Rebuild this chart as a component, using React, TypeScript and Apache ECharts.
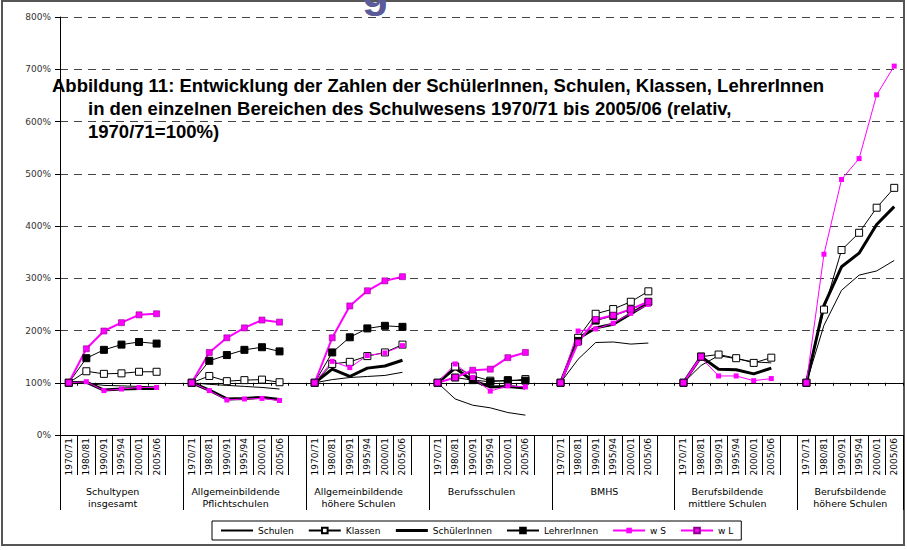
import React, { useEffect, useRef } from "react";
import * as echarts from "echarts";

const groupLabels = [
  "Schultypen\ninsgesamt",
  "Allgemeinbildende\nPflichtschulen",
  "Allgemeinbildende\nhöhere Schulen",
  "Berufsschulen",
  "BMHS",
  "Berufsbildende\nmittlere Schulen",
  "Berufsbildende\nhöhere Schulen",
];
const years = ["1970/71", "1980/81", "1990/91", "1995/94", "2000/01", "2005/06"];
const yTicks = [0, 100, 200, 300, 400, 500, 600, 700, 800];

const schulen = [
  [100, 99, 95, 94, 93, 92],
  [100, 97, 95, 93, 91, 88],
  [100, 106, 110, 112, 114, 120],
  [100, 69, 57, 52, 43, 38],
  [100, 145, 177, 178, 174, 176],
  [100, 133, 152, 146, 140, 138],
  [100, 210, 277, 306, 314, 334],
];
const klassen = [
  [100, 122, 117, 118, 121, 121],
  [100, 113, 103, 105, 106, 101],
  [100, 136, 140, 151, 158, 173],
  [100, 131, 113, 104, 103, 107],
  [100, 186, 232, 241, 255, 275],
  [100, 150, 154, 147, 138, 148],
  [100, 240, 354, 387, 435, 473],
];
const schueler = [
  [100, 101, 86, 88, 89, 89],
  [100, 86, 69, 70, 72, 68],
  [100, 126, 112, 128, 132, 143],
  [100, 128, 104, 92, 93, 90],
  [100, 185, 205, 212, 232, 252],
  [100, 150, 126, 125, 117, 128],
  [100, 248, 322, 348, 403, 437],
];
const lehrer = [
  [100, 147, 163, 173, 178, 175],
  [100, 142, 153, 163, 168, 160],
  [100, 158, 187, 204, 209, 207],
  [100, 110, 105, 102, 105, 104],
  [100, 180, 219, 228, 240, 255],
  [100, 150, null, null, null, null],
  [100, null, null, null, null, null],
];
const wS = [
  [100, 102, 85, 88, 91, 91],
  [100, 85, 67, 69, 70, 66],
  [100, 141, 129, 152, 157, 171],
  [100, 136, 110, 84, 94, 92],
  [100, 199, 203, 214, 233, 250],
  [100, 148, 113, 113, 104, 108],
  [100, 346, 489, 529, 651, 706],
];
const wL = [
  [100, 165, 199, 215, 230, 232],
  [100, 158, 186, 205, 220, 216],
  [100, 186, 247, 276, 295, 303],
  [100, 110, 124, 126, 148, 158],
  [100, 177, 221, 229, 241, 255],
  [100, 150, null, null, null, null],
  [100, null, null, null, null, null],
];

const FONT = "DejaVu Sans";

function flatten(g: (number | null)[][]): (number | null)[] {
  const out: (number | null)[] = [];
  g.forEach((arr, i) => {
    out.push(...arr);
    if (i < g.length - 1) out.push(null);
  });
  return out;
}

export default function App() {
  const ref = useRef<HTMLDivElement>(null);
  useEffect(() => {
    if (!ref.current) return;
    const chart = echarts.init(ref.current, null, { renderer: "svg" });

    const categories: string[] = [];
    const groupBounds: number[] = [0];
    const groupCenters: number[] = [];
    groupLabels.forEach((_, i) => {
      const start = categories.length;
      categories.push(...years);
      const end = categories.length;
      groupCenters.push((start + end) / 2);
      if (i < groupLabels.length - 1) categories.push("");
      groupBounds.push(categories.length);
    });
    const nCat = categories.length;

    const black = "#000";
    const mag = "#ff00ff";

    const option: any = {
      animation: false,
      backgroundColor: "#fff",
      grid: { left: 60, right: 4, top: 17, bottom: 115, containLabel: false, outerBoundsMode: "none" },
      xAxis: [
        {
          type: "category",
          data: categories,
          boundaryGap: true,
          position: "bottom",
          axisLine: { show: true, lineStyle: { color: black, width: 1 } },
          axisTick: { show: true, interval: 0, length: 40, lineStyle: { color: black } },
          axisLabel: {
            interval: 0,
            rotate: 90,
            margin: 3,
            fontSize: 9,
            fontFamily: FONT,
            color: "#000",
          },
          splitLine: { show: false },
        },
        {
          type: "value",
          min: 0,
          max: nCat,
          position: "bottom",
          axisLine: { show: false },
          splitLine: { show: false },
          axisTick: {
            show: true,
            customValues: groupBounds,
            length: 75,
            lineStyle: { color: black },
          },
          axisLabel: {
            customValues: groupCenters,
            margin: 50,
            fontSize: 9.5,
            fontFamily: FONT,
            color: "#000",
            lineHeight: 12,
            formatter: (v: number) => {
              const i = groupCenters.findIndex((c) => Math.abs(c - v) < 0.01);
              return i >= 0 ? groupLabels[i] : "";
            },
          },
        },
        {
          type: "category",
          data: categories,
          boundaryGap: true,
          position: "bottom",
          offset: -(418 / 8),
          axisLine: { show: true, onZero: false, lineStyle: { color: black, width: 1 } },
          axisTick: { show: true, interval: 0, length: 3, lineStyle: { color: black } },
          axisLabel: { show: false },
          splitLine: { show: false },
        },
      ],
      yAxis: {
        type: "value",
        min: yTicks[0],
        max: yTicks[yTicks.length - 1],
        interval: 100,
        axisLine: { show: true, lineStyle: { color: black } },
        axisTick: { show: true, length: 5, lineStyle: { color: black } },
        axisLabel: {
          formatter: "{value}%",
          fontSize: 9,
          fontFamily: FONT,
          color: "#333",
          margin: 9,
        },
        splitLine: { show: true, lineStyle: { color: "#444", type: [8, 6], width: 1 } },
      },
      legend: {
        left: 212,
        top: 521,
        orient: "horizontal",
        borderColor: "#000",
        borderWidth: 1,
        padding: [5, 8],
        itemGap: 14,
        itemWidth: 32,
        itemHeight: 7,
        textStyle: { fontSize: 9, fontFamily: FONT, color: "#000" },
        data: [
          { name: "Schulen", itemStyle: { opacity: 0 } },
          "Klassen",
          { name: "SchülerInnen", itemStyle: { opacity: 0 }, lineStyle: { width: 3 } },
          "LehrerInnen",
          "w S",
          { name: "w L", lineStyle: { width: 2 } },
        ],
      },
      series: [
        {
          name: "Schulen",
          type: "line",
          data: flatten(schulen),
          symbol: "none",
          lineStyle: { color: black, width: 1 },
          itemStyle: { color: black },
          connectNulls: false,
        },
        {
          name: "Klassen",
          type: "line",
          data: flatten(klassen),
          symbol: "rect",
          symbolSize: 7,
          showAllSymbol: true,
          lineStyle: { color: black, width: 1 },
          itemStyle: { color: "#fff", borderColor: black, borderWidth: 1 },
          connectNulls: false,
        },
        {
          name: "SchülerInnen",
          type: "line",
          data: flatten(schueler),
          symbol: "none",
          lineStyle: { color: black, width: 3 },
          itemStyle: { color: black },
          connectNulls: false,
        },
        {
          name: "LehrerInnen",
          type: "line",
          data: flatten(lehrer),
          symbol: "rect",
          symbolSize: 7,
          showAllSymbol: true,
          lineStyle: { color: black, width: 1 },
          itemStyle: { color: black, borderColor: black, borderWidth: 1 },
          connectNulls: false,
        },
        {
          name: "w S",
          type: "line",
          data: flatten(wS),
          symbol: "rect",
          symbolSize: 5,
          showAllSymbol: true,
          lineStyle: { color: mag, width: 1 },
          itemStyle: { color: mag },
          connectNulls: false,
        },
        {
          name: "w L",
          type: "line",
          data: flatten(wL),
          symbol: "rect",
          symbolSize: 6,
          showAllSymbol: true,
          lineStyle: { color: mag, width: 2 },
          itemStyle: { color: mag, borderColor: "#8a008a", borderWidth: 0.6 },
          connectNulls: false,
        },
      ],
      graphic: [
        {
          type: "rect",
          silent: true,
          shape: { x: 2, y: 1, width: 902, height: 544 },
          style: { fill: "none", stroke: "#555", lineWidth: 2 },
        },
        {
          type: "text",
          silent: true,
          x: 362,
          y: 13,
          style: {
            text: "g",
            font: 'bold 44px "Liberation Sans"',
            fill: "#5b5b99",
            verticalAlign: "bottom",
          },
        },
        {
          type: "text",
          silent: true,
          x: 52,
          y: 85,
          style: {
            text: "Abbildung 11: Entwicklung der Zahlen der SchülerInnen, Schulen, Klassen, LehrerInnen",
            font: 'bold 18.5px "Liberation Sans"',
            fill: "#000",
            verticalAlign: "middle",
          },
        },
        {
          type: "text",
          silent: true,
          x: 88,
          y: 108,
          style: {
            text: "in den einzelnen Bereichen des Schulwesens 1970/71 bis 2005/06 (relativ,",
            font: 'bold 18.5px "Liberation Sans"',
            fill: "#000",
            verticalAlign: "middle",
          },
        },
        {
          type: "text",
          silent: true,
          x: 88,
          y: 131,
          style: {
            text: "1970/71=100%)",
            font: 'bold 18.5px "Liberation Sans"',
            fill: "#000",
            verticalAlign: "middle",
          },
        },
      ],
    };

    chart.setOption(option);
    return () => chart.dispose();
  }, []);

  return (
    <div
      ref={ref}
      style={{ position: "fixed", left: 0, top: 0, width: 907, height: 550, background: "#fff" }}
    />
  );
}
